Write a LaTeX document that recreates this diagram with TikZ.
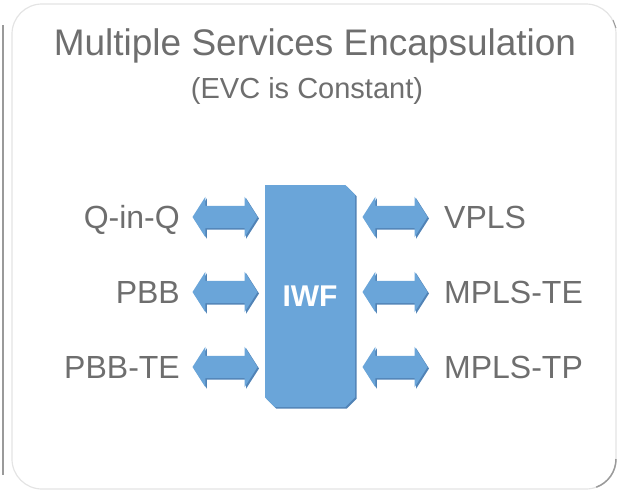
\documentclass[tikz,border=0pt]{standalone}
\usepackage{fontspec}
\setmainfont{Liberation Sans}
\usetikzlibrary{
    positioning,
    shapes.arrows,
    shapes.misc,
    shadows
    }

\definecolor{textgray}{HTML}{6E6E6E}
\definecolor{iwfblue}{HTML}{6AA5D9}
\definecolor{iwfdark}{HTML}{5183B6}
\definecolor{panelline}{HTML}{E4E4E4}
\definecolor{paneldark}{HTML}{9A9A9A}

\begin{document}
\begin{tikzpicture}[x=1pt, y=-1pt]
\tikzset{panel/.style =
        {
            line width=1.2pt,
            draw=panelline,
            rounded corners=30pt
        }
}

\tikzset{label/.style =
        {
            text=textgray,
            inner sep=0pt,
            font=\fontsize{32}{32}\selectfont
        }
}

\tikzset{iwfbox/.style =
        {
            chamfered rectangle,
            chamfered rectangle corners={north east, south east, south west},
            chamfered rectangle xsep=6pt,
            fill=iwfblue,
            text=white,
            minimum width=90pt,
            minimum height=222pt,
            inner sep=0pt,
            font=\fontsize{30}{30}\selectfont\bfseries,
            drop shadow={shadow xshift=1.5pt, shadow yshift=-1.5pt,
                    fill=iwfdark, opacity=1}
        }
}

\tikzset{blockarrow/.style =
        {
            double arrow,
            double arrow tip angle=115,
            double arrow head extend=9pt,
            minimum height=65pt,
            inner xsep=0pt,
            inner ysep=11pt,
            fill=iwfblue,
            drop shadow={shadow xshift=1.5pt, shadow yshift=-1.5pt,
                    fill=iwfdark, opacity=1}
        }
}

\useasboundingbox (0,0) rectangle (619,491);

% panel outline
\draw[panel] (12,4) rectangle (616,489);
\draw[paneldark, line width=2pt] (2.5,25) -- (2.5,475);
\draw[paneldark, line width=1.5pt] (616,459) arc [start angle=0, end angle=70, radius=30];
\draw[paneldark, line width=1pt] (613,20) -- (616,28);

% titles
\node[text=textgray, anchor=base, font=\fontsize{37}{37}\selectfont] (title) at (315,55) {Multiple Services Encapsulation};
\node[text=textgray, anchor=base, font=\fontsize{29}{29}\selectfont] (subtitle) at (307,98) {(EVC is Constant)};

\node[iwfbox] (iwf) at (310,296) {IWF};

\foreach \i / \y / \left / \right in
    {1/217/Q-in-Q/VPLS,
        2/292/PBB/MPLS-TE,
        3/367/PBB-TE/MPLS-TP}
{
    \node[blockarrow] (arrow-l\i) at (225,\y) {};
    \node[blockarrow] (arrow-r\i) at (395,\y) {};
    \node[label, anchor=base east] (label-l\i) at (180,\y+11) {\left};
    \node[label, anchor=base west] (label-r\i) at (444,\y+11) {\right};
}

\end{tikzpicture}
\end{document}
